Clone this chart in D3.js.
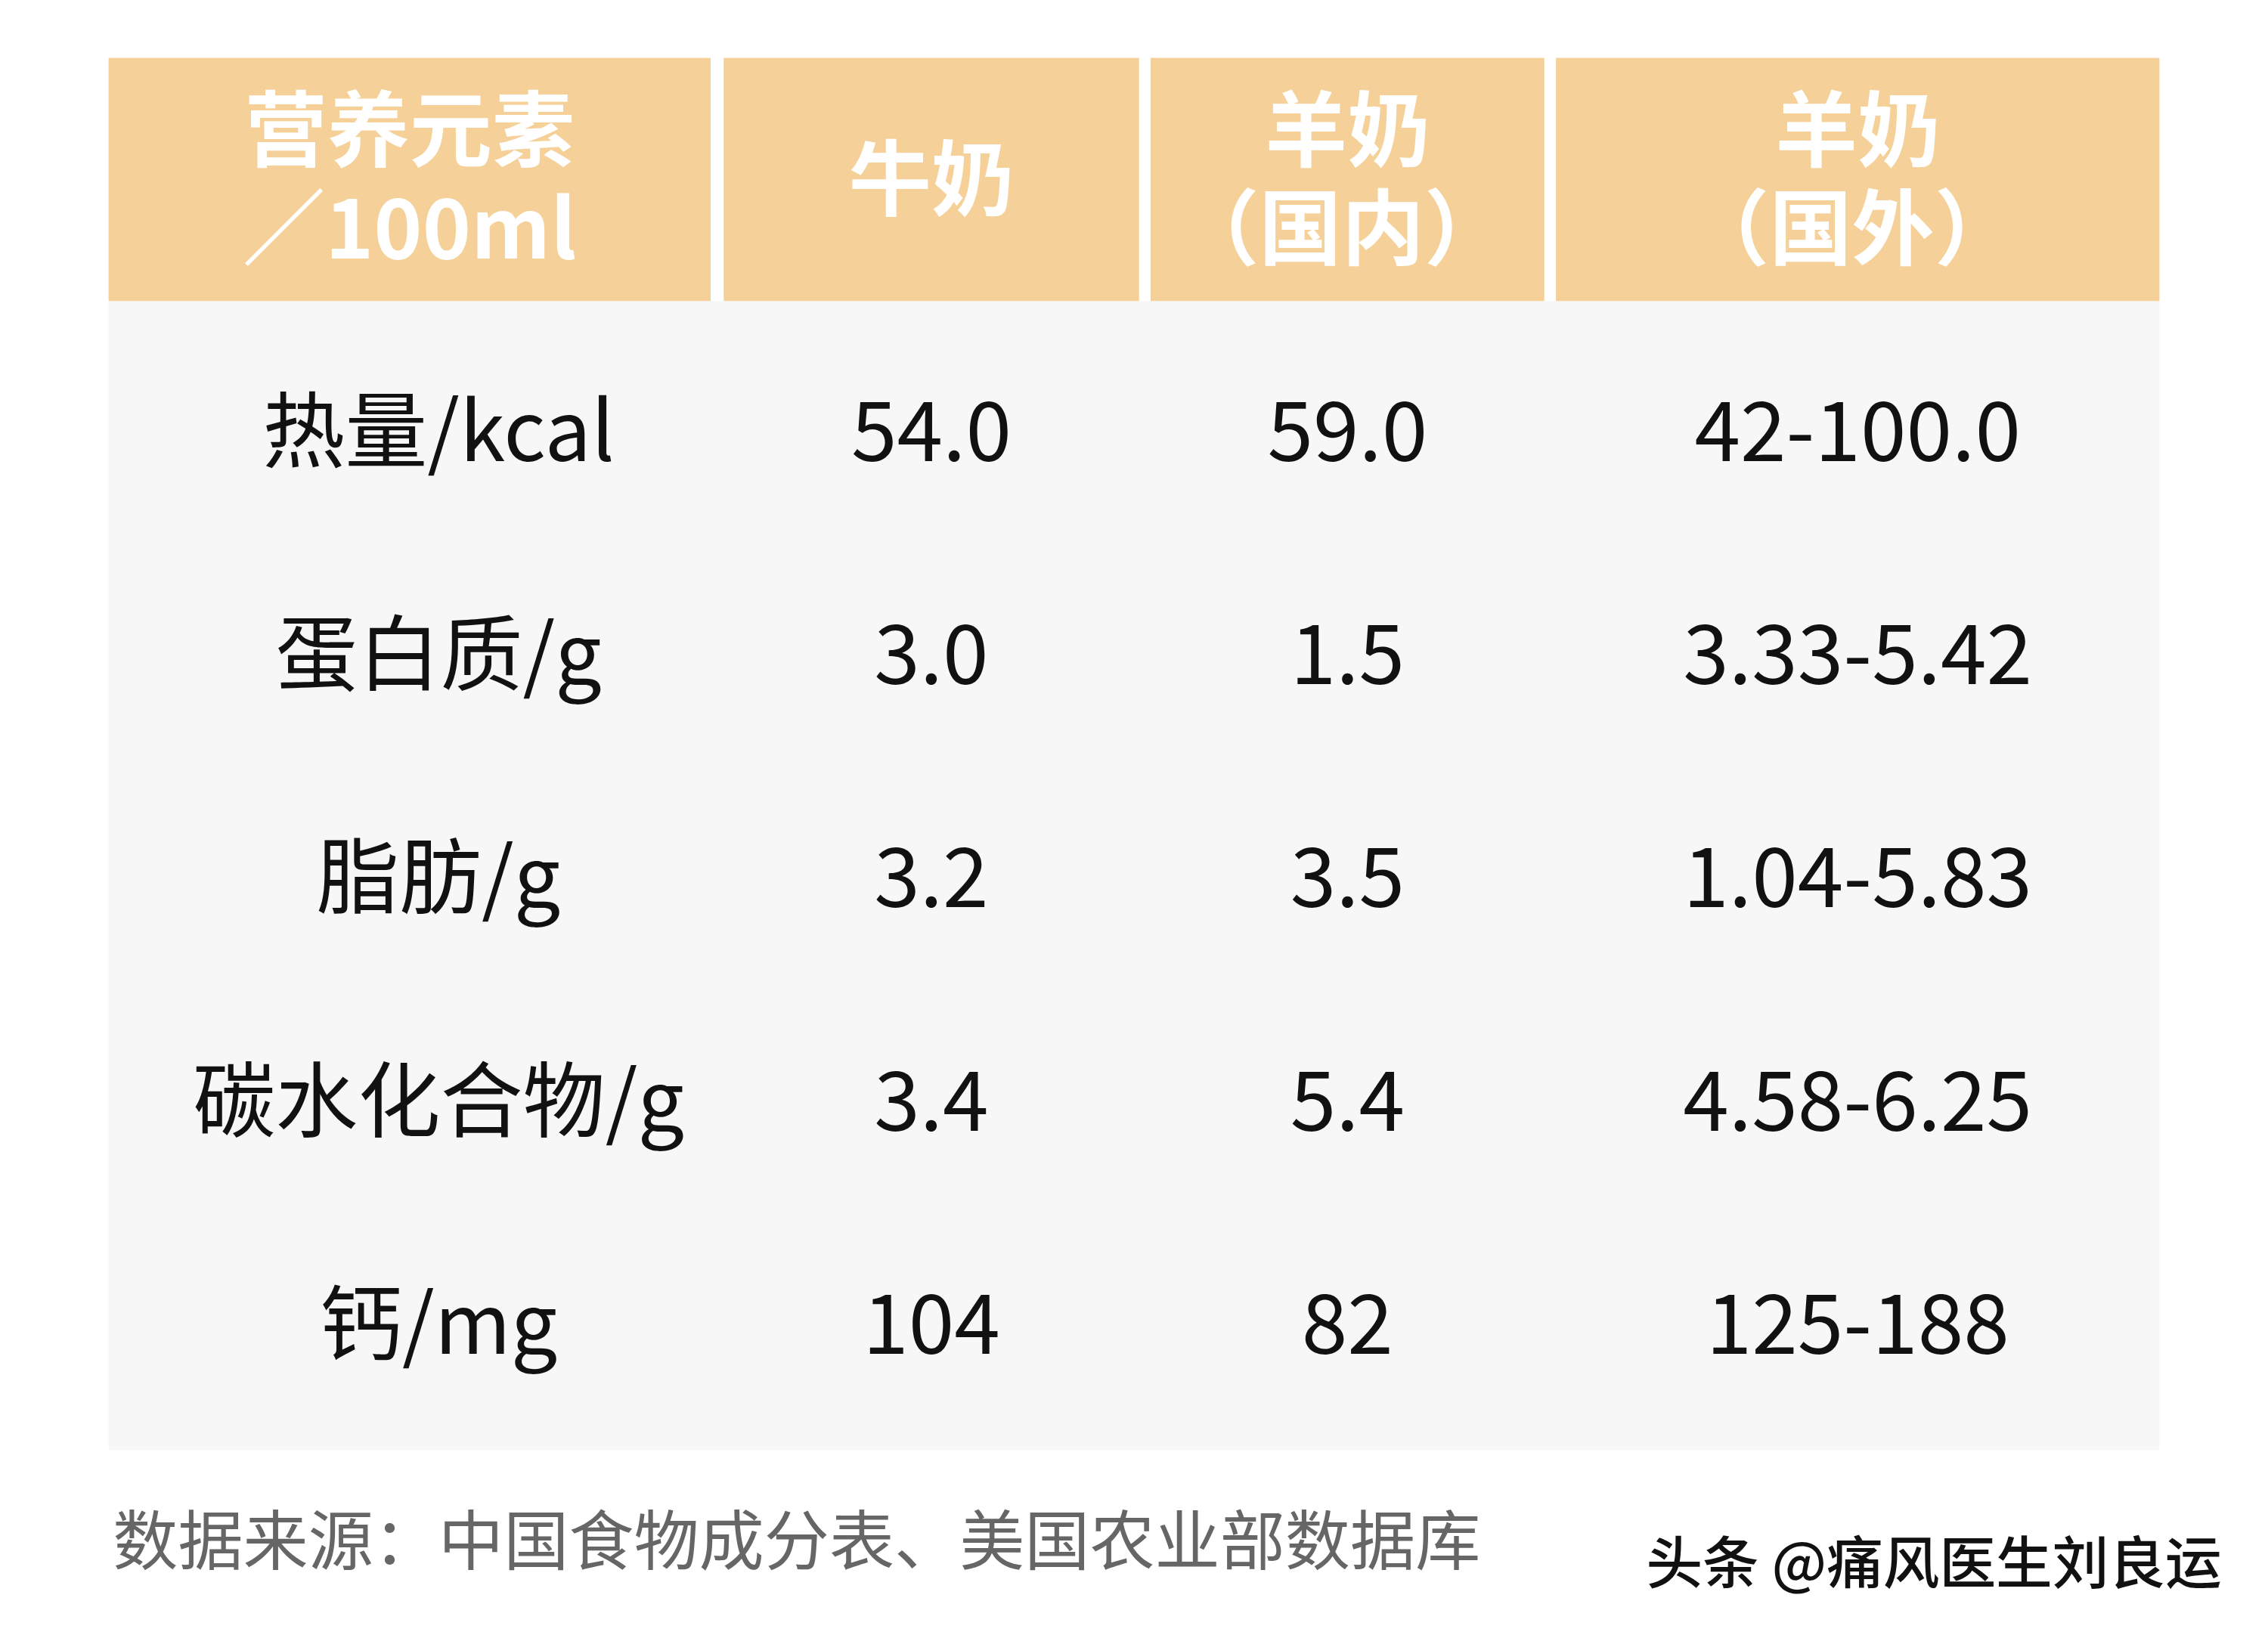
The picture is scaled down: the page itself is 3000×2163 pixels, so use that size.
<!DOCTYPE html><html><head><meta charset="utf-8"><script src="https://cdn.jsdelivr.net/npm/d3@7"></script>
<style>body{margin:0;background:#fff}</style></head><body><script>
const headers=[["营养元素","／100ml"],["牛奶"],["羊奶","（国内）"],["羊奶","（国外）"]];
const rowLabels=["热量/kcal","蛋白质/g","脂肪/g","碳水化合物/g","钙/mg"];
const cowMilk=["54.0","3.0","3.2","3.4","104"];
const goatDomestic=["59.0","1.5","3.5","5.4","82"];
const goatForeign=["42-100.0","3.33-5.42","1.04-5.83","4.58-6.25","125-188"];
const source="数据来源：中国食物成分表、美国农业部数据库";
const watermark="头条 @痛风医生刘良运";
const k=3000/1567;
const svg=d3.select("body").append("svg").attr("width",3000).attr("height",2163);
const g=svg.append("g").attr("transform",`scale(${k})`);
const F="'Noto Sans CJK SC','Noto Sans',sans-serif";
const colEdges=[[75,491],[500,787],[795,1067],[1075,1492]];
const cols=colEdges.map(e=>(e[0]+e[1])/2);
const bodyCols=[303,cols[1],cols[2],cols[3]];
g.append("rect").attr("x",75).attr("y",208).attr("width",1417).attr("height",794).attr("fill","#f7f7f7");
colEdges.forEach((e,i)=>{
  g.append("rect").attr("x",e[0]).attr("y",40).attr("width",e[1]-e[0]).attr("height",168).attr("fill","#f5d199");
  const h=headers[i];
  const ys=h.length===1?[124]:[90,158];
  h.forEach((t,j)=>g.append("text").attr("x",cols[i]+(t.startsWith("（")?-4:0)).attr("y",ys[j]).attr("dy","0.36em")
    .attr("text-anchor","middle").attr("font-family",F).attr("font-weight",700).attr("font-size",57).attr("fill","#fff").text(t));
});
const y=d3.scalePoint().domain(rowLabels).range([298,915]);
const data=[rowLabels,cowMilk,goatDomestic,goatForeign];
data.forEach((arr,i)=>arr.forEach((t,j)=>g.append("text").attr("x",bodyCols[i]).attr("y",y(rowLabels[j])).attr("dy","0.36em")
  .attr("text-anchor","middle").attr("font-family",F).attr("font-size",57).attr("fill","#111").text(t)));
g.append("text").attr("x",78).attr("y",1065).attr("dy","0.36em").attr("font-family",F).attr("font-size",45).attr("fill","#666").text(source);
g.append("text").attr("x",1535).attr("y",1080).attr("dy","0.36em").attr("text-anchor","end").attr("font-family",F).attr("font-size",39)
  .attr("font-weight",500).attr("fill","#111").attr("stroke","#fff").attr("stroke-width",1.5).attr("paint-order","stroke").text(watermark);
</script></body></html>
